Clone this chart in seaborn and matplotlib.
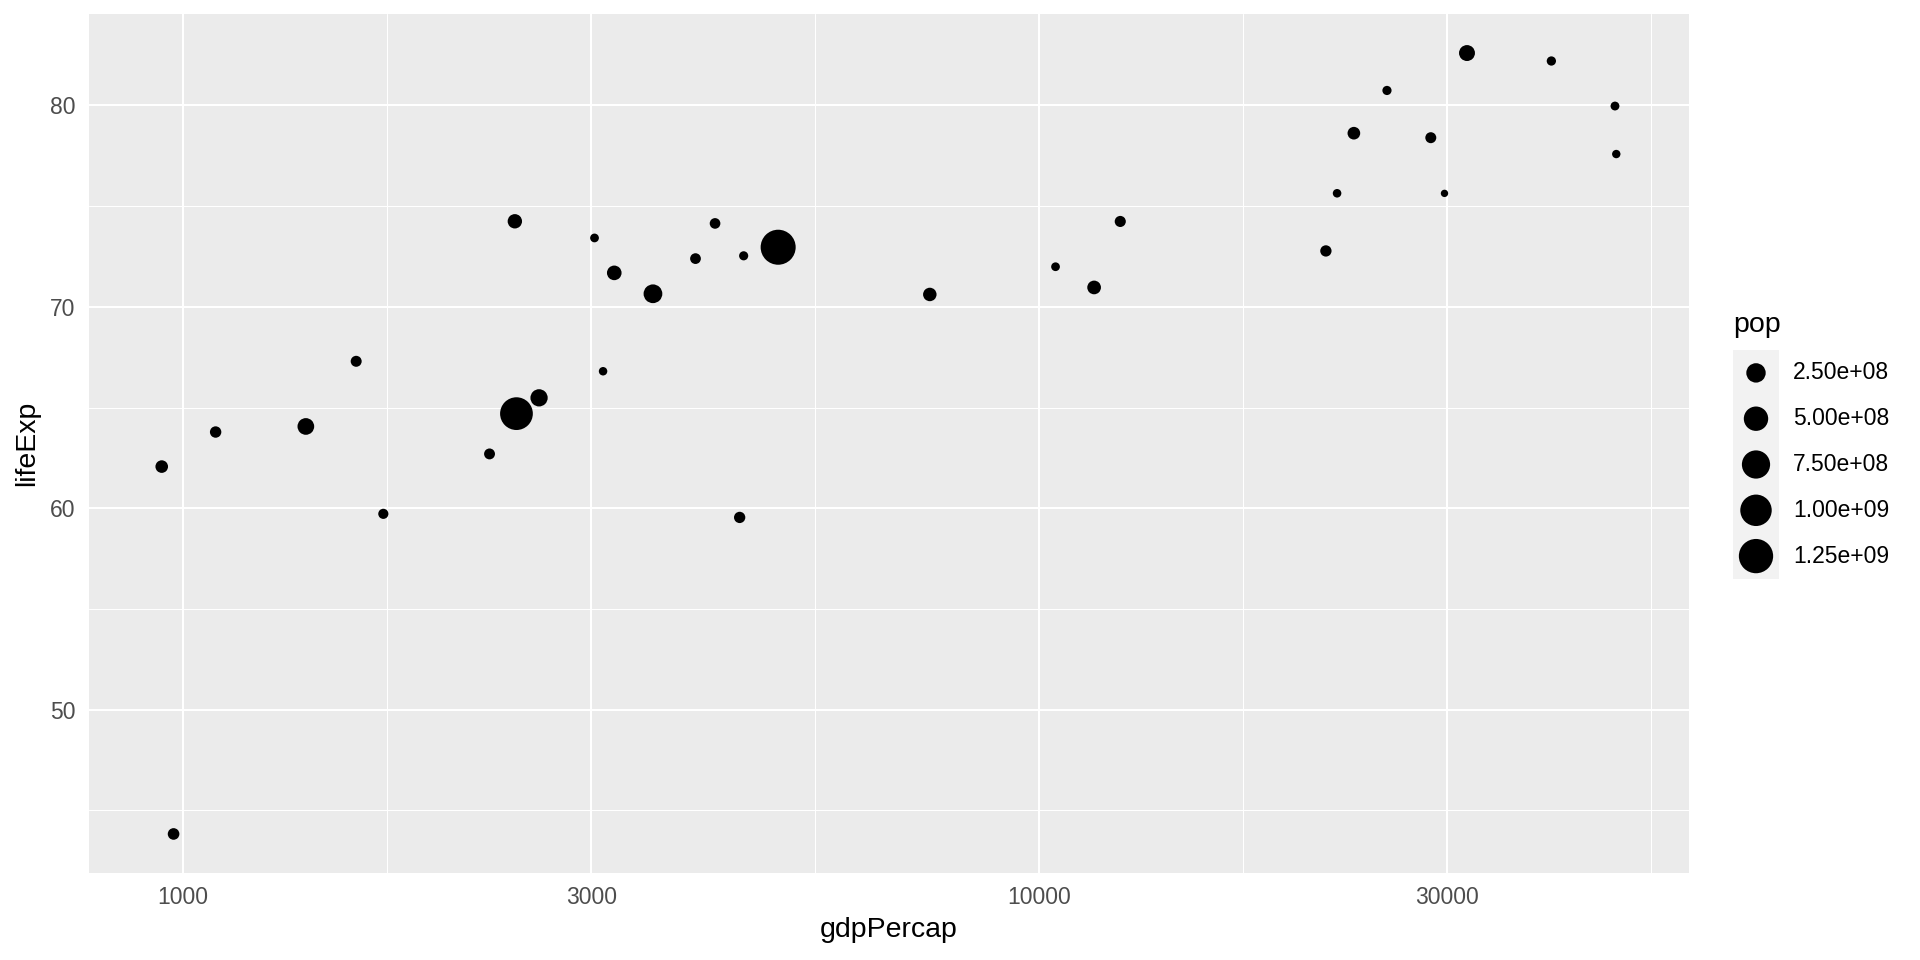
import numpy as np
import pandas as pd
import matplotlib
matplotlib.use("Agg")
import matplotlib.pyplot as plt
import seaborn as sns

sns.set_style("white")
plt.rcParams['font.family'] = ['Liberation Sans', 'DejaVu Sans']

# gapminder, Asia 2007
country = ["Afghanistan", "Bahrain", "Bangladesh", "Cambodia", "China", "Hong Kong",
           "India", "Indonesia", "Iran", "Iraq", "Israel", "Japan", "Jordan",
           "Korea Dem Rep", "Korea Rep", "Kuwait", "Lebanon", "Malaysia", "Mongolia",
           "Myanmar", "Nepal", "Oman", "Pakistan", "Philippines", "Saudi Arabia",
           "Singapore", "Sri Lanka", "Syria", "Taiwan", "Thailand", "Vietnam",
           "West Bank and Gaza", "Yemen"]
gdpPercap = [974.58, 29796.05, 1391.25, 1713.78, 4959.11, 39724.98, 2452.21, 3540.65,
             11605.71, 4471.06, 25523.28, 31656.07, 4519.46, 1593.07, 23348.14, 47306.99,
             10461.06, 12451.66, 3095.77, 944.00, 1091.36, 22316.19, 2605.95, 3190.48,
             21654.83, 47143.18, 3970.10, 4184.55, 28718.28, 7458.40, 2441.58, 3025.35,
             2280.77]
lifeExp = [43.828, 75.635, 64.062, 59.723, 72.961, 82.208, 64.698, 70.650, 70.964, 59.545,
           80.745, 82.603, 72.535, 67.297, 78.623, 77.588, 71.993, 74.241, 66.803, 62.069,
           63.785, 75.640, 65.483, 71.688, 72.777, 79.972, 72.396, 74.143, 78.400, 70.616,
           74.249, 73.422, 62.698]
pop = [31889923, 708573, 150448339, 14131858, 1318683096, 6980412, 1110396331, 223547000,
       69453570, 27499638, 6426679, 127467972, 6053193, 23301725, 49044790, 2505559,
       3921278, 24821286, 2874127, 47761980, 28901790, 3204897, 169270617, 91077287,
       27601038, 4553009, 20378239, 19314747, 23174294, 65068149, 85262356, 4018332,
       22211743]

x_breaks = [1000, 3000, 10000, 30000]
y_breaks = [50, 60, 70, 80]
y_minor = [45, 55, 65, 75]
pop_breaks = [2.5e8, 5.0e8, 7.5e8, 1.0e9, 1.25e9]
pop_labels = ["2.50e+08", "5.00e+08", "7.50e+08", "1.00e+09", "1.25e+09"]

df = pd.DataFrame({"country": country, "gdpPercap": gdpPercap,
                   "lifeExp": lifeExp, "pop": pop})

pmin, pmax = min(pop), max(pop)


def area(p):
    # ggplot2 scale_size: diameter linear in sqrt of rescaled value, range 1-6
    size_mm = 1 + 5 * np.sqrt((np.asarray(p, float) - pmin) / (pmax - pmin))
    px = 1.944 * (size_mm * 2.845 + 0.945)
    return (px * 0.72) ** 2


fig = plt.figure(figsize=(19.2, 9.6), dpi=100)
ax = fig.add_axes([89 / 1920, 87 / 960, 1600 / 1920, 859 / 960])
ax.set_facecolor("#EBEBEB")

sizes = {p: float(area(p)) for p in pop}
sns.scatterplot(ax=ax, data=df, x="gdpPercap", y="lifeExp", size="pop", sizes=sizes,
                color="black", linewidth=0, legend=False, zorder=3)

ax.set_xscale("log")
lx = np.log10(df["gdpPercap"])
pad = (lx.max() - lx.min()) * 0.05
ax.set_xlim(10 ** (lx.min() - pad), 10 ** (lx.max() + pad))
ypad = (df["lifeExp"].max() - df["lifeExp"].min()) * 0.05
ax.set_ylim(df["lifeExp"].min() - ypad, df["lifeExp"].max() + ypad)

lb = np.log10(x_breaks)
step = lb[1] - lb[0]
lb_ext = np.append(lb, lb[-1] + step)
x_minor = 10 ** ((lb_ext[:-1] + lb_ext[1:]) / 2)

ax.set_xticks(x_breaks)
ax.set_xticklabels([str(b) for b in x_breaks])
ax.set_xticks(x_minor, minor=True)
ax.set_yticks(y_breaks)
ax.set_yticks(y_minor, minor=True)

ax.grid(which="major", color="white", linewidth=1.5, zorder=0)
ax.grid(which="minor", color="white", linewidth=0.75, zorder=0)
ax.set_axisbelow(True)
for s in ax.spines.values():
    s.set_visible(False)

ax.tick_params(which="major", length=5, width=1.3, color="#333333",
               labelsize=16.5, labelcolor="#4D4D4D")
ax.tick_params(axis="x", which="major", pad=4)
ax.tick_params(axis="y", which="major", pad=5)
ax.tick_params(which="minor", length=0)

ax.set_xlabel("gdpPercap", fontsize=20.5, color="black")
ax.set_ylabel("lifeExp", fontsize=20.5, color="black")
ax.xaxis.set_label_coords(0.5, (873 - 930) / 859)
ax.xaxis.label.set_va("center")
ax.yaxis.set_label_coords((27 - 89) / 1600, 0.5)
ax.yaxis.label.set_va("center")

# legend drawn as a small key strip
lax = fig.add_axes([1733 / 1920, (960 - 579) / 960, 46 / 1920, 229 / 960])
lax.set_facecolor("#F2F2F2")
ky = np.arange(len(pop_breaks)) + 0.5
sns.scatterplot(ax=lax, x=[0.5] * len(pop_breaks), y=ky, s=area(pop_breaks),
                color="black", linewidth=0, legend=False)
lax.set_xlim(0, 1)
lax.set_ylim(len(pop_breaks), 0)
lax.set_xticks([])
lax.set_yticks([])
lax.set_xlabel("")
lax.set_ylabel("")
for s in lax.spines.values():
    s.set_visible(False)
for yv, lab in zip(ky, pop_labels):
    lax.text((1793 - 1733) / 46, yv, lab, transform=lax.get_yaxis_transform(),
             ha="left", va="center", fontsize=16.5, color="black", clip_on=False)
fig.text(1733 / 1920, (960 - 332) / 960, "pop", fontsize=20.5, ha="left",
         va="baseline", color="black")

fig.savefig("out.png", dpi=100, facecolor="white")
